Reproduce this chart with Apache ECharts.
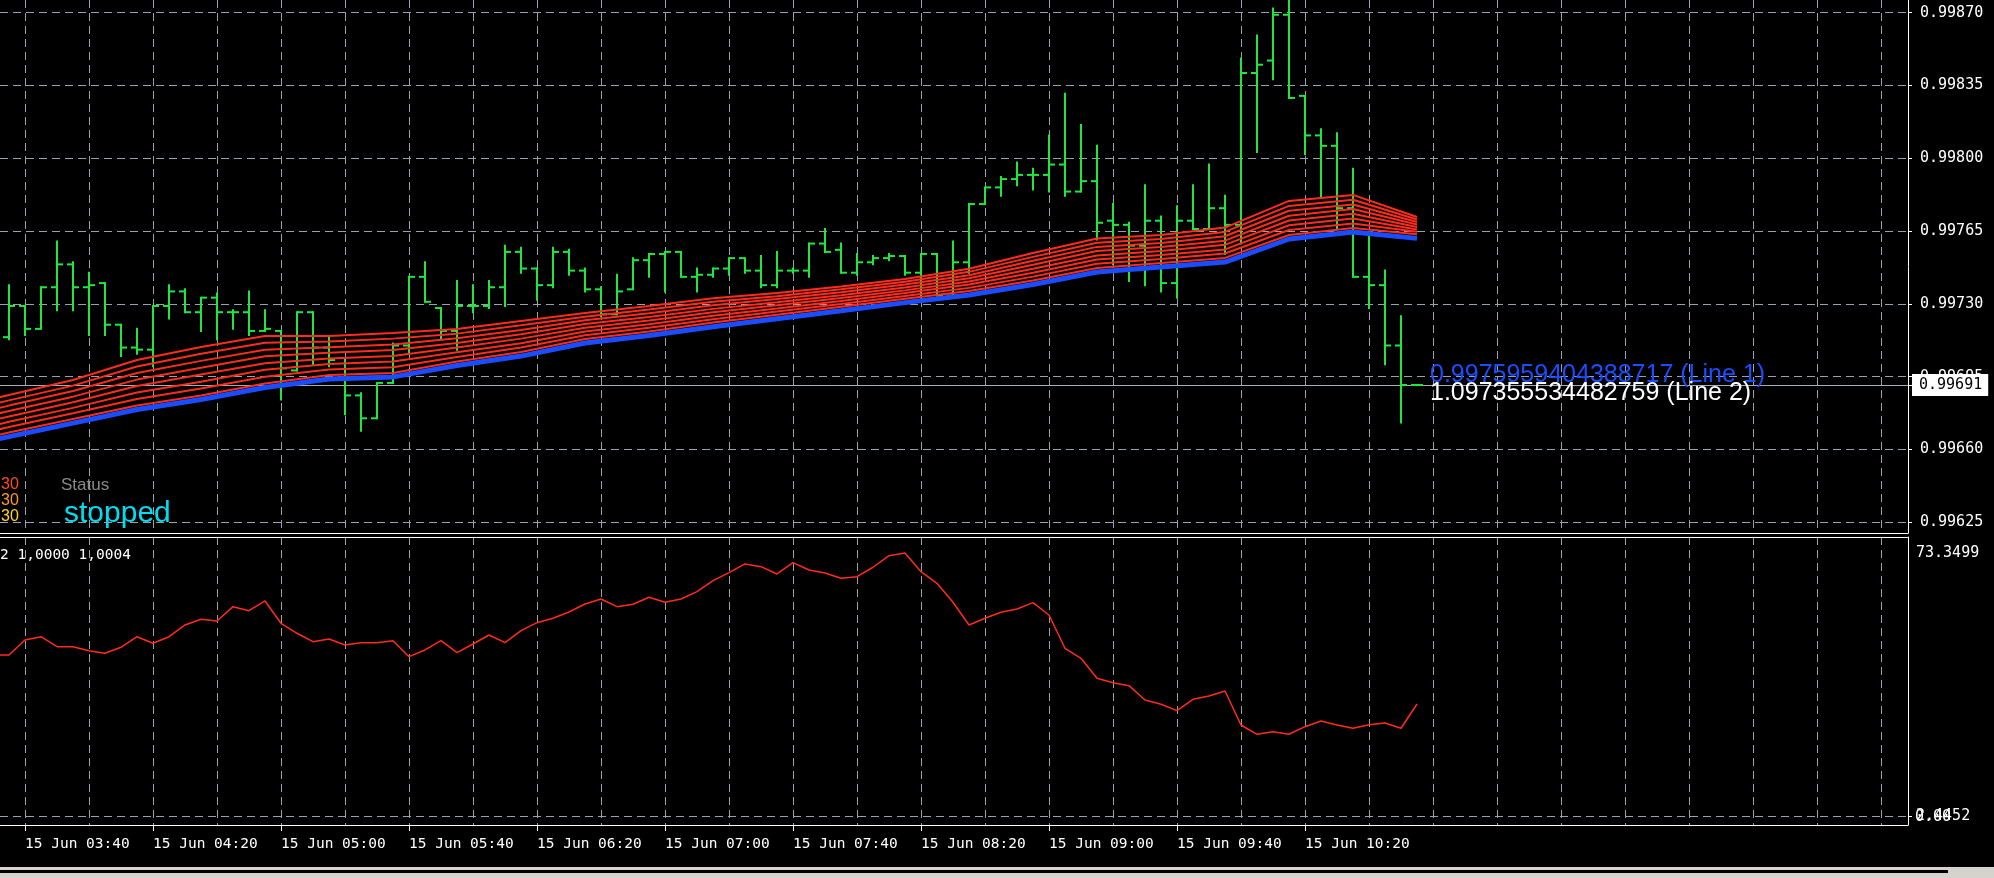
<!DOCTYPE html>
<html>
<head>
<meta charset="utf-8">
<title>EURCHF M5</title>
<script src="https://cdn.jsdelivr.net/npm/echarts@6.0.0/dist/echarts.min.js"></script>
<style>
  html, body { margin: 0; padding: 0; background: #000; }
  #main { width: 1994px; height: 878px; }
</style>
</head>
<body>
<div id="main"></div>
<script>
// time axis: one slot per 5-minute bar, 03:30 is slot 0
var times = [];
for (var k = 0, m = 3 * 60 + 30; k < 121; k++, m += 5) {
  var hh = Math.floor(m / 60), mm = m % 60;
  times.push('15 Jun ' + (hh < 10 ? '0' : '') + hh + ':' + (mm < 10 ? '0' : '') + mm);
}
var lastBar = 89;
var gridIdx = [], labelIdx = [];
for (var g = 2; g < 120; g += 4) gridIdx.push(g);
for (var g2 = 2; g2 <= lastBar; g2 += 8) labelIdx.push(g2);

// bars 03:35 .. 10:55 (slot 1 .. 89)
var open = [0.99714,0.99729,0.99718,0.99738,0.99749,0.99738,0.99740,0.99720,0.99709,0.99708,
  0.99729,0.99736,0.99726,0.99733,0.99726,0.99726,0.99717,0.99717,0.99698,0.99726,
  0.99709,0.99704,0.99686,0.99675,0.99692,0.99710,0.99743,0.99728,0.99717,0.99729,
  0.99729,0.99738,0.99755,0.99747,0.99739,0.99755,0.99746,0.99737,0.99725,0.99737,
  0.99751,0.99754,0.99755,0.99743,0.99744,0.99747,0.99752,0.99746,0.99739,0.99746,
  0.99746,0.99759,0.99756,0.99745,0.99750,0.99752,0.99753,0.99745,0.99754,0.99734,
  0.99750,0.99778,0.99786,0.99790,0.99792,0.99792,0.99797,0.99784,0.99789,0.99770,
  0.99768,0.99758,0.99770,0.99740,0.99770,0.99766,0.99776,0.99768,0.99841,0.99847,
  0.99869,0.99830,0.99811,0.99806,0.99776,0.99743,0.99739,0.99710,0.99691];
var high = [0.99739,0.99729,0.99738,0.99760,0.99750,0.99745,0.99740,0.99720,0.99718,0.99729,
  0.99739,0.99737,0.99733,0.99735,0.99727,0.99736,0.99727,0.99717,0.99726,0.99726,
  0.99714,0.99704,0.99687,0.99692,0.99711,0.99743,0.99750,0.99728,0.99741,0.99739,
  0.99741,0.99758,0.99757,0.99747,0.99757,0.99756,0.99747,0.99738,0.99744,0.99752,
  0.99754,0.99755,0.99755,0.99747,0.99747,0.99752,0.99752,0.99753,0.99755,0.99747,
  0.99759,0.99766,0.99759,0.99754,0.99753,0.99754,0.99753,0.99754,0.99754,0.99760,
  0.99778,0.99786,0.99791,0.99798,0.99795,0.99811,0.99831,0.99816,0.99806,0.99778,
  0.99769,0.99787,0.99772,0.99777,0.99787,0.99797,0.99782,0.99848,0.99859,0.99872,
  0.99879,0.99830,0.99814,0.99812,0.99795,0.99764,0.99746,0.99724,0.99691];
var low = [0.99713,0.99715,0.99718,0.99727,0.99727,0.99715,0.99715,0.99705,0.99706,0.99700,
  0.99723,0.99726,0.99717,0.99713,0.99718,0.99715,0.99717,0.99684,0.99698,0.99701,
  0.99700,0.99677,0.99669,0.99675,0.99692,0.99706,0.99731,0.99713,0.99708,0.99726,
  0.99728,0.99729,0.99745,0.99732,0.99738,0.99744,0.99736,0.99724,0.99725,0.99737,
  0.99743,0.99736,0.99743,0.99736,0.99743,0.99744,0.99745,0.99738,0.99738,0.99745,
  0.99743,0.99755,0.99745,0.99744,0.99749,0.99751,0.99744,0.99733,0.99734,0.99734,
  0.99745,0.99778,0.99782,0.99787,0.99785,0.99784,0.99782,0.99784,0.99761,0.99749,
  0.99741,0.99739,0.99736,0.99733,0.99766,0.99766,0.99754,0.99759,0.99803,0.99838,
  0.99829,0.99802,0.99781,0.99766,0.99743,0.99728,0.99701,0.99673,0.99691];
var close = [0.99729,0.99718,0.99738,0.99749,0.99738,0.99739,0.99720,0.99709,0.99708,0.99729,
  0.99736,0.99726,0.99733,0.99726,0.99726,0.99717,0.99718,0.99699,0.99726,0.99709,
  0.99703,0.99686,0.99675,0.99692,0.99710,0.99743,0.99731,0.99717,0.99729,0.99729,
  0.99738,0.99755,0.99747,0.99739,0.99755,0.99746,0.99737,0.99725,0.99736,0.99751,
  0.99754,0.99755,0.99743,0.99744,0.99747,0.99752,0.99746,0.99739,0.99746,0.99746,
  0.99759,0.99755,0.99745,0.99750,0.99752,0.99753,0.99745,0.99754,0.99734,0.99750,
  0.99778,0.99786,0.99790,0.99792,0.99792,0.99797,0.99784,0.99789,0.99769,0.99768,
  0.99758,0.99770,0.99740,0.99770,0.99766,0.99776,0.99768,0.99841,0.99845,0.99869,
  0.99829,0.99811,0.99806,0.99776,0.99743,0.99739,0.99710,0.99691,0.99691];

// moving average ribbon, read every 4th bar
var maIdx = [0,1,5,9,13,17,21,25,29,33,37,41,45,49,53,57,61,65,69,73,77,81,85,89];
var ma1 = [0.996844,0.996862,0.996934,0.997030,0.997093,0.997146,0.997146,0.997160,0.997179,0.997218,0.997256,0.997290,0.997327,0.997352,0.997384,0.997420,0.997469,0.997545,0.997614,0.997631,0.997667,0.997795,0.997824,0.997718];
var ma2 = [0.996818,0.996836,0.996907,0.996999,0.997060,0.997113,0.997119,0.997133,0.997157,0.997197,0.997238,0.997273,0.997310,0.997337,0.997370,0.997406,0.997454,0.997526,0.997594,0.997612,0.997646,0.997771,0.997801,0.997706];
var ma3 = [0.996793,0.996811,0.996881,0.996968,0.997026,0.997080,0.997092,0.997105,0.997135,0.997175,0.997221,0.997255,0.997293,0.997323,0.997356,0.997393,0.997438,0.997507,0.997574,0.997593,0.997625,0.997748,0.997778,0.997694];
var ma4 = [0.996767,0.996785,0.996854,0.996936,0.996993,0.997048,0.997065,0.997078,0.997112,0.997154,0.997203,0.997237,0.997276,0.997308,0.997342,0.997379,0.997423,0.997488,0.997554,0.997574,0.997604,0.997724,0.997756,0.997682];
var ma5 = [0.996741,0.996759,0.996827,0.996905,0.996960,0.997015,0.997038,0.997050,0.997090,0.997133,0.997185,0.997220,0.997260,0.997293,0.997328,0.997365,0.997408,0.997469,0.997533,0.997554,0.997584,0.997701,0.997733,0.997670];
var ma6 = [0.996715,0.996733,0.996800,0.996874,0.996926,0.996983,0.997011,0.997023,0.997068,0.997111,0.997167,0.997202,0.997243,0.997278,0.997314,0.997352,0.997393,0.997450,0.997513,0.997535,0.997562,0.997678,0.997710,0.997658];
var ma7 = [0.996690,0.996708,0.996774,0.996843,0.996893,0.996950,0.996985,0.996995,0.997045,0.997090,0.997149,0.997185,0.997226,0.997263,0.997300,0.997338,0.997377,0.997431,0.997493,0.997516,0.997542,0.997655,0.997687,0.997647];
var ma8 = [0.996664,0.996682,0.996747,0.996811,0.996860,0.996917,0.996958,0.996968,0.997023,0.997069,0.997131,0.997167,0.997210,0.997248,0.997286,0.997325,0.997362,0.997412,0.997473,0.997497,0.997521,0.997631,0.997665,0.997635];
var maBlue = [0.996646,0.996662,0.996727,0.996792,0.996840,0.996898,0.996939,0.996949,0.997004,0.997049,0.997112,0.997148,0.997190,0.997229,0.997267,0.997306,0.997343,0.997393,0.997453,0.997477,0.997501,0.997612,0.997646,0.997615];

// sub window indicator, slot 0 .. 89
var osc = [45.85,45.85,49.89,50.78,48.09,48.09,47.01,46.30,47.92,50.78,49.00,
  50.78,53.94,55.47,55.02,58.87,57.79,60.41,54.39,51.70,49.43,
  50.16,48.54,49.16,49.16,49.70,45.39,47.20,49.70,46.47,48.81,
  51.24,49.16,52.40,54.56,55.74,57.44,59.60,60.95,58.87,59.52,
  61.41,60.06,60.95,62.92,65.89,68.04,70.39,69.66,67.69,70.74,
  68.77,67.96,66.53,66.96,69.50,72.63,73.3499,68.31,65.18,60.06,
  53.94,55.74,57.36,58.25,59.95,56.63,47.65,44.96,39.56,38.38,
  37.57,33.71,32.55,30.83,33.90,34.79,36.14,26.97,24.46,25.16,
  24.46,26.51,28.05,26.97,26.08,27.05,27.51,26.08,32.63];

var priceTicks = [0.99625,0.99660,0.99695,0.99730,0.99765,0.99800,0.99835,0.99870];
var subTicks = [2.4452, 73.3499];
var bidPrice = 0.99691;

var XMIN = 0.4375, XMAX = 119.6875;
var GRID = '#98a2ae', MONO = 'DejaVu Sans Mono', SANS = 'Liberation Sans';
var RED = '#ff2b1c', BLUE = '#1a4dff', GREEN = '#1ee83c';
var dash = { color: GRID, type: [8, 5], width: 1 };
var white = { color: '#fff', width: 1 };

var ohlc = open.map(function (o, k) { return [k + 1, o, close[k], low[k], high[k]]; });
function pairs(arr) { return maIdx.map(function (x, k) { return [x, arr[k]]; }); }

var chart = echarts.init(document.getElementById('main'), null, { renderer: 'canvas' });

var series = [];
[ma1, ma2, ma3, ma4, ma5, ma6, ma7, ma8].forEach(function (arr) {
  series.push({
    type: 'line', xAxisIndex: 0, yAxisIndex: 0, data: pairs(arr),
    symbol: 'none', lineStyle: { color: RED, width: 2 }, silent: true
  });
});
series.push({
  type: 'line', xAxisIndex: 0, yAxisIndex: 0, data: pairs(maBlue),
  symbol: 'none', lineStyle: { color: BLUE, width: 5 }, silent: true
});
series.push({
  type: 'custom', xAxisIndex: 0, yAxisIndex: 0, data: ohlc,
  encode: { x: 0, y: [1, 2, 3, 4] },
  renderItem: function (params, api) {
    var x = api.value(0);
    var o = api.coord([x, api.value(1)]);
    var c = api.coord([x, api.value(2)]);
    var l = api.coord([x, api.value(3)]);
    var h = api.coord([x, api.value(4)]);
    var st = { stroke: GREEN, lineWidth: 2 };
    return {
      type: 'group',
      children: [
        { type: 'line', shape: { x1: h[0], y1: h[1] - 1, x2: l[0], y2: l[1] + 1 }, style: st },
        { type: 'line', shape: { x1: o[0] - 6, y1: o[1], x2: o[0], y2: o[1] }, style: st },
        { type: 'line', shape: { x1: c[0], y1: c[1], x2: c[0] + 6, y2: c[1] }, style: st }
      ]
    };
  }
});
series.push({
  type: 'line', xAxisIndex: 1, yAxisIndex: 1,
  data: osc.map(function (v, k) { return [k, v]; }),
  symbol: 'none', lineStyle: { color: RED, width: 1.5 }, silent: true
});

function txt(x, y, s, color, size, family) {
  return {
    type: 'text', x: x, y: y, silent: true, z: 100,
    style: { text: s, fill: color, fontSize: size, fontFamily: family, verticalAlign: 'middle', align: 'left' }
  };
}

var hiddenTick = { show: true, customValues: gridIdx, length: 0, lineStyle: { color: 'rgba(0,0,0,0)' } };

var option = {
  backgroundColor: '#000',
  animation: false,
  grid: [
    { left: 0, right: 86, top: 0, height: 533 },
    { left: 0, right: 86, top: 537, height: 288 }
  ],
  xAxis: [
    {
      gridIndex: 0, type: 'value', min: XMIN, max: XMAX,
      axisLine: { onZero: false, lineStyle: white },
      axisTick: hiddenTick, axisLabel: { show: false },
      splitLine: { show: true, lineStyle: dash }
    },
    {
      gridIndex: 1, type: 'value', min: XMIN, max: XMAX, position: 'bottom',
      axisLine: { onZero: false, lineStyle: white },
      axisTick: hiddenTick,
      axisLabel: {
        customValues: labelIdx, align: 'left', margin: 12,
        color: '#fff', fontFamily: MONO, fontSize: 14.5,
        formatter: function (v) { return times[Math.round(v)]; }
      },
      splitLine: { show: true, lineStyle: dash }
    },
    {
      gridIndex: 1, type: 'value', min: XMIN, max: XMAX, position: 'top',
      axisLine: { onZero: false, lineStyle: white },
      axisTick: { show: false }, axisLabel: { show: false }, splitLine: { show: false }
    },
    {
      gridIndex: 1, type: 'value', min: XMIN, max: XMAX, position: 'bottom',
      axisLine: { show: false, onZero: false },
      axisTick: { show: true, customValues: labelIdx, length: 6, lineStyle: { color: '#fff' } },
      axisLabel: { show: false }, splitLine: { show: false }
    }
  ],
  yAxis: [
    {
      gridIndex: 0, type: 'value', position: 'right', min: 0.9961985, max: 0.998761,
      axisLine: { show: true, onZero: false, lineStyle: white },
      axisTick: { show: true, customValues: priceTicks, length: 4, lineStyle: { color: '#fff' } },
      axisLabel: {
        customValues: priceTicks, margin: 12, color: '#fff', fontFamily: MONO, fontSize: 15,
        formatter: function (v) { return v.toFixed(5); }
      },
      splitLine: { show: true, lineStyle: dash }
    },
    {
      gridIndex: 1, type: 'value', position: 'right', min: 0, max: 77.66,
      axisLine: { show: true, onZero: false, lineStyle: white },
      axisTick: { show: true, customValues: [2.4452], length: 4, lineStyle: { color: '#fff' } },
      axisLabel: {
        customValues: subTicks, margin: 8, color: '#fff', fontFamily: MONO, fontSize: 15,
        formatter: function (v) { return v.toFixed(4); }
      },
      splitLine: { show: true, lineStyle: dash }
    },
    {
      gridIndex: 1, type: 'value', position: 'right', min: 0, max: 77.66,
      axisLine: { show: false, onZero: false }, axisTick: { show: false }, splitLine: { show: false },
      axisLabel: {
        customValues: [0], margin: 7, color: '#fff', fontFamily: MONO, fontSize: 15,
        verticalAlign: 'bottom', formatter: function (v) { return v.toFixed(2); }
      }
    },
    {
      // current bid line and its price box
      gridIndex: 0, type: 'value', position: 'right', min: 0.9961985, max: 0.998761,
      axisLine: { show: false, onZero: false },
      axisTick: { show: true, customValues: [bidPrice], length: 4, lineStyle: { color: '#fff' } },
      axisLabel: {
        customValues: [bidPrice], margin: 4, color: '#000', backgroundColor: '#fff',
        padding: [4, 6, 3, 7], fontFamily: MONO, fontSize: 15,
        formatter: function (v) { return v.toFixed(5); }
      },
      splitLine: { show: true, lineStyle: { color: '#a4adb8', type: 'solid', width: 1 } }
    }
  ],
  graphic: [
    txt(1, 485, '30', '#ff4a22', 16, SANS),
    txt(1, 501, '30', '#ff9a1f', 16, SANS),
    txt(1, 517, '30', '#ffd51f', 16, SANS),
    txt(61, 485, 'Status', '#8a8a8a', 17, SANS),
    txt(64, 514, 'stopped', '#00dcf0', 30, SANS),
    txt(0, 555, '2 1,0000 1,0004', '#fff', 14.5, MONO),
    txt(1430, 375, '0.9975959404388717 (Line 1)', BLUE, 25, SANS),
    txt(1430, 393, '1.097355534482759 (Line 2)', '#fff', 25, SANS),
    { type: 'rect', silent: true, shape: { x: 0, y: 867, width: 1994, height: 11 }, style: { fill: '#d6d3ce' } },
    { type: 'rect', silent: true, shape: { x: 0, y: 870, width: 1948, height: 3 }, style: { fill: '#000' } }
  ],
  series: series
};

chart.setOption(option);
</script>
</body>
</html>
